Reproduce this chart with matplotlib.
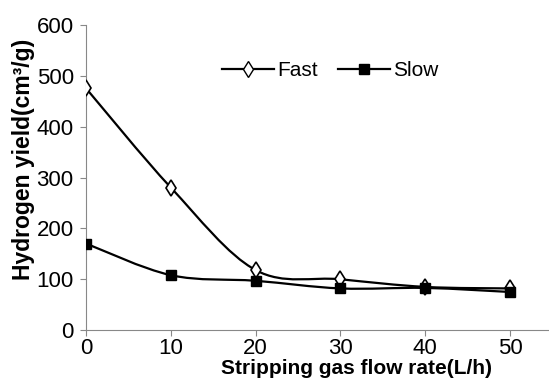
import numpy as np
import matplotlib.pyplot as plt
from matplotlib.path import Path
from matplotlib.patches import PathPatch

# data
flow_rate = [0, 10, 20, 30, 40, 50]
fast = [475, 280, 118, 100, 85, 82]
slow = [170, 108, 97, 82, 83, 75]

plt.rcParams['font.family'] = ['Liberation Sans', 'DejaVu Sans']


def smooth_path(x, y, k=1 / 6):
    # Excel-style smoothed line: cubic bezier through the points
    x = np.asarray(x, float)
    y = np.asarray(y, float)
    verts = [(x[0], y[0])]
    codes = [Path.MOVETO]
    n = len(x)
    for i in range(n - 1):
        i0 = max(i - 1, 0)
        i3 = min(i + 2, n - 1)
        c1 = (x[i] + (x[i + 1] - x[i0]) * k, y[i] + (y[i + 1] - y[i0]) * k)
        c2 = (x[i + 1] - (x[i3] - x[i]) * k, y[i + 1] - (y[i3] - y[i]) * k)
        verts += [c1, c2, (x[i + 1], y[i + 1])]
        codes += [Path.CURVE4] * 3
    return Path(verts, codes)


fig = plt.figure(figsize=(5.49, 3.83), dpi=100)
ax = fig.add_axes([0.157, 0.138, 0.843, 0.797])

for vals in [fast, slow]:
    ax.add_patch(PathPatch(smooth_path(flow_rate, vals), fill=False,
                           edgecolor='black', linewidth=1.6, zorder=2))

ax.plot(flow_rate, fast, linestyle='none', marker='d', markersize=8.5,
        markerfacecolor='white', markeredgecolor='black', markeredgewidth=1.2, zorder=3)
ax.plot(flow_rate, slow, linestyle='none', marker='s', markersize=7.5,
        color='black', zorder=3)

# legend handles with lines through the markers
h1, = ax.plot([], [], color='black', linewidth=1.6, marker='d', markersize=8,
              markerfacecolor='white', markeredgecolor='black')
h2, = ax.plot([], [], color='black', linewidth=1.6, marker='s', markersize=7.5)
ax.legend([h1, h2], ['Fast', 'Slow'], ncol=2, frameon=False, fontsize=15,
          loc='center left', bbox_to_anchor=(0.27, 0.85), handlelength=2.5,
          handletextpad=0.15, columnspacing=1.0, borderpad=0)

ax.set_xlim(0, 54.6)
ax.set_ylim(0, 600)
ax.set_xticks(flow_rate)
ax.set_yticks([0, 100, 200, 300, 400, 500, 600])
ax.tick_params(labelsize=16, length=4, color='#888888')
ax.tick_params(axis='x', pad=2)
ax.tick_params(axis='y', pad=5)

for s in ['top', 'right']:
    ax.spines[s].set_visible(False)
for s in ['left', 'bottom']:
    ax.spines[s].set_color('#888888')

ax.set_xlabel('Stripping gas flow rate(L/h)', fontsize=15, fontweight='bold')
ax.xaxis.set_label_coords(0.585, -0.095)
ax.xaxis.label.set_verticalalignment('top')
ax.set_ylabel('Hydrogen yield(cm³/g)', fontsize=16.5, fontweight='bold')
ax.yaxis.set_label_coords(-0.11, 0.56)

fig.savefig('out.png', dpi=100)
